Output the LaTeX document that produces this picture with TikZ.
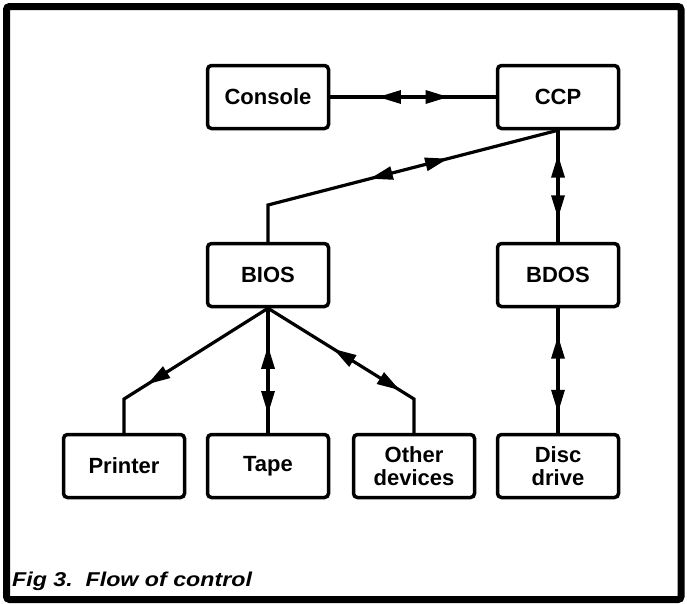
\documentclass[tikz,border=0pt]{standalone}
\usepackage{fontspec}
\setmainfont{Liberation Sans}
\usetikzlibrary{arrows.meta,decorations.markings}

\begin{document}
\begin{tikzpicture}[x=1pt, y=-1pt,
  box/.style={draw, line width=3.5pt, rounded corners=4pt, minimum width=121pt,
    minimum height=63pt, inner sep=0pt, align=center,
    font=\fontsize{22}{23}\selectfont\bfseries},
  link/.style={line width=3.2pt},
  flowtip/.tip={Triangle[length=23pt, width=13pt]},
  twoway/.style 2 args={postaction={decorate}, decoration={markings,
    mark=at position #1 with {\arrow{flowtip[reversed]}},
    mark=at position #2 with {\arrow{flowtip}}}},
  oneway/.style={postaction={decorate}, decoration={markings,
    mark=at position #1 with {\arrow{flowtip}}}}]
\useasboundingbox (0,0) rectangle (687,603);
\draw[line width=7pt, rounded corners=3pt] (6.5,6.5) rectangle (681,599.5);

% top row
\node[box] (console) at (268,97) {Console};
\node[box] (ccp) at (558,97) {CCP};
% middle row
\node[box] (bios) at (268,275) {BIOS};
\node[box] (bdos) at (558,275) {BDOS};
% devices
\node[box] (printer) at (124,466) {Printer};
\node[box] (tape) at (268,466) {Tape};
\node[box] (other) at (414,466) {Other\\devices};
\node[box] (disc) at (558,466) {Disc\\drive};

\coordinate (biosbend) at (268,205);
\coordinate (printerbend) at (124,399);
\coordinate (otherbend) at (414,399);

\draw[link, twoway={0.427}{0.715}] (console) -- (ccp);
\draw[link, twoway={0.406}{0.578}] (ccp.south) -- (biosbend) -- (bios.north);
\draw[link, twoway={0.424}{0.79}] (ccp.south) -- (bdos.north);
\draw[link, oneway=0.70] (bios.south) -- (printerbend) -- (printer.north);
\draw[link, twoway={0.486}{0.85}] (bios.south) -- (tape.north);
\draw[link, twoway={0.486}{0.755}] (bios.south) -- (otherbend) -- (other.north);
\draw[link, twoway={0.405}{0.84}] (bdos.south) -- (disc.north);

\node[anchor=base west, inner sep=0pt] (caption) at (12,586)
  {\scalebox{1.16}[1]{\fontsize{20}{24}\selectfont\bfseries\itshape Fig 3.\ \ Flow of control}};
\end{tikzpicture}
\end{document}
